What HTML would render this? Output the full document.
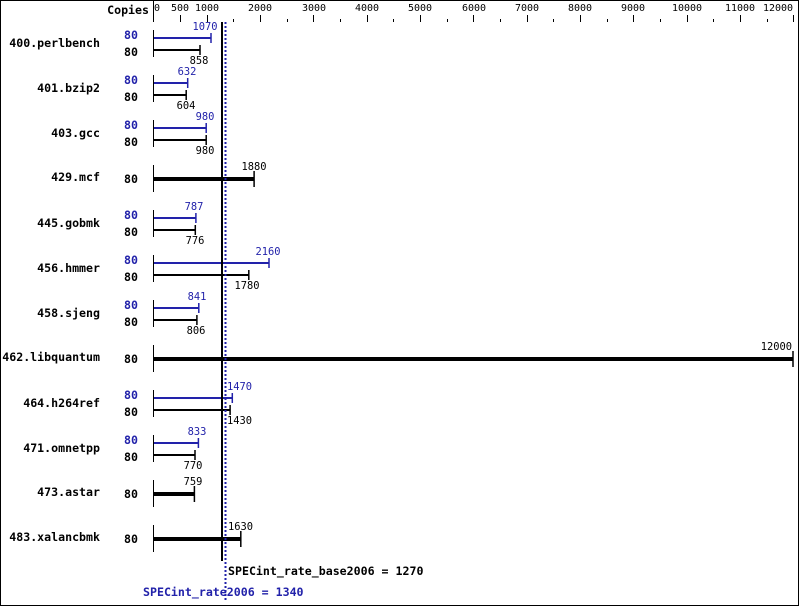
<html><body style="margin:0;background:#fff">
<svg width="799" height="606" xmlns="http://www.w3.org/2000/svg" font-family="DejaVu Sans Mono, Liberation Mono, monospace" font-size="11.6">
<rect x="0.5" y="0.5" width="798" height="605" fill="#fff" stroke="#000"/>
<text x="149" y="14" text-anchor="end" font-weight="bold">Copies</text>
<line x1="153.5" y1="0" x2="153.5" y2="22" stroke="#000"/>
<g fill="#000" font-size="10" text-anchor="middle">
<text x="157" y="11">0</text><text x="180" y="11">500</text><text x="207" y="11">1000</text>
<text x="260" y="11">2000</text><text x="314" y="11">3000</text><text x="367" y="11">4000</text><text x="420" y="11">5000</text><text x="474" y="11">6000</text><text x="527" y="11">7000</text><text x="580" y="11">8000</text><text x="633" y="11">9000</text><text x="687" y="11">10000</text><text x="740" y="11">11000</text><text x="778" y="11">12000</text>
</g>
<g stroke="#000">
<line x1="180.5" y1="15" x2="180.5" y2="22"/><line x1="207.5" y1="15" x2="207.5" y2="22"/>
<line x1="233.5" y1="19" x2="233.5" y2="22"/><line x1="260.5" y1="15" x2="260.5" y2="22"/>
<line x1="287.5" y1="19" x2="287.5" y2="22"/><line x1="313.5" y1="15" x2="313.5" y2="22"/>
<line x1="340.5" y1="19" x2="340.5" y2="22"/><line x1="367.5" y1="15" x2="367.5" y2="22"/>
<line x1="393.5" y1="19" x2="393.5" y2="22"/><line x1="420.5" y1="15" x2="420.5" y2="22"/>
<line x1="447.5" y1="19" x2="447.5" y2="22"/><line x1="473.5" y1="15" x2="473.5" y2="22"/>
<line x1="500.5" y1="19" x2="500.5" y2="22"/><line x1="527.5" y1="15" x2="527.5" y2="22"/>
<line x1="553.5" y1="19" x2="553.5" y2="22"/><line x1="580.5" y1="15" x2="580.5" y2="22"/>
<line x1="607.5" y1="19" x2="607.5" y2="22"/><line x1="633.5" y1="15" x2="633.5" y2="22"/>
<line x1="660.5" y1="19" x2="660.5" y2="22"/><line x1="687.5" y1="15" x2="687.5" y2="22"/>
<line x1="713.5" y1="19" x2="713.5" y2="22"/><line x1="740.5" y1="15" x2="740.5" y2="22"/>
<line x1="767.5" y1="19" x2="767.5" y2="22"/><line x1="793.5" y1="15" x2="793.5" y2="22"/>
</g>
<g font-weight="bold" text-anchor="end">
<text x="100" y="47">400.perlbench</text><text x="100" y="92">401.bzip2</text><text x="100" y="137">403.gcc</text>
<text x="100" y="181">429.mcf</text><text x="100" y="227">445.gobmk</text><text x="100" y="272">456.hmmer</text>
<text x="100" y="317">458.sjeng</text><text x="100" y="361">462.libquantum</text><text x="100" y="407">464.h264ref</text>
<text x="100" y="452">471.omnetpp</text><text x="100" y="496">473.astar</text><text x="100" y="541">483.xalancbmk</text>
</g>

<g font-size="10.4">
<g transform="translate(0,0)">
<line x1="153.5" y1="30" x2="153.5" y2="57" stroke="#000"/>
<text x="138" y="39" text-anchor="end" font-weight="bold" fill="#2222aa" font-size="11.6">80</text><text x="138" y="56" text-anchor="end" font-weight="bold" font-size="11.6">80</text>
<line x1="154" y1="38" x2="211" y2="38" stroke="#2222aa" stroke-width="2"/><line x1="211" y1="33" x2="211" y2="43" stroke="#2222aa" stroke-width="1.5"/>
<line x1="154" y1="50" x2="200" y2="50" stroke="#000" stroke-width="2"/><line x1="200" y1="45" x2="200" y2="55" stroke="#000" stroke-width="1.5"/>
<text x="205" y="30" text-anchor="middle" fill="#2222aa">1070</text><text x="199" y="64" text-anchor="middle">858</text>
</g>
<g transform="translate(0,45)">
<line x1="153.5" y1="30" x2="153.5" y2="57" stroke="#000"/>
<text x="138" y="39" text-anchor="end" font-weight="bold" fill="#2222aa" font-size="11.6">80</text><text x="138" y="56" text-anchor="end" font-weight="bold" font-size="11.6">80</text>
<line x1="154" y1="38" x2="187.7" y2="38" stroke="#2222aa" stroke-width="2"/><line x1="187.7" y1="33" x2="187.7" y2="43" stroke="#2222aa" stroke-width="1.5"/>
<line x1="154" y1="50" x2="186.2" y2="50" stroke="#000" stroke-width="2"/><line x1="186.2" y1="45" x2="186.2" y2="55" stroke="#000" stroke-width="1.5"/>
<text x="187" y="30" text-anchor="middle" fill="#2222aa">632</text><text x="186" y="64" text-anchor="middle">604</text>
</g>
<g transform="translate(0,90)">
<line x1="153.5" y1="30" x2="153.5" y2="57" stroke="#000"/>
<text x="138" y="39" text-anchor="end" font-weight="bold" fill="#2222aa" font-size="11.6">80</text><text x="138" y="56" text-anchor="end" font-weight="bold" font-size="11.6">80</text>
<line x1="154" y1="38" x2="206.2" y2="38" stroke="#2222aa" stroke-width="2"/><line x1="206.2" y1="33" x2="206.2" y2="43" stroke="#2222aa" stroke-width="1.5"/>
<line x1="154" y1="50" x2="206.2" y2="50" stroke="#000" stroke-width="2"/><line x1="206.2" y1="45" x2="206.2" y2="55" stroke="#000" stroke-width="1.5"/>
<text x="205" y="30" text-anchor="middle" fill="#2222aa">980</text><text x="205" y="64" text-anchor="middle">980</text>
</g>
<g transform="translate(0,180)">
<line x1="153.5" y1="30" x2="153.5" y2="57" stroke="#000"/>
<text x="138" y="39" text-anchor="end" font-weight="bold" fill="#2222aa" font-size="11.6">80</text><text x="138" y="56" text-anchor="end" font-weight="bold" font-size="11.6">80</text>
<line x1="154" y1="38" x2="195.9" y2="38" stroke="#2222aa" stroke-width="2"/><line x1="195.9" y1="33" x2="195.9" y2="43" stroke="#2222aa" stroke-width="1.5"/>
<line x1="154" y1="50" x2="195.3" y2="50" stroke="#000" stroke-width="2"/><line x1="195.3" y1="45" x2="195.3" y2="55" stroke="#000" stroke-width="1.5"/>
<text x="194" y="30" text-anchor="middle" fill="#2222aa">787</text><text x="195" y="64" text-anchor="middle">776</text>
</g>
<g transform="translate(0,225)">
<line x1="153.5" y1="30" x2="153.5" y2="57" stroke="#000"/>
<text x="138" y="39" text-anchor="end" font-weight="bold" fill="#2222aa" font-size="11.6">80</text><text x="138" y="56" text-anchor="end" font-weight="bold" font-size="11.6">80</text>
<line x1="154" y1="38" x2="269" y2="38" stroke="#2222aa" stroke-width="2"/><line x1="269" y1="33" x2="269" y2="43" stroke="#2222aa" stroke-width="1.5"/>
<line x1="154" y1="50" x2="248.8" y2="50" stroke="#000" stroke-width="2"/><line x1="248.8" y1="45" x2="248.8" y2="55" stroke="#000" stroke-width="1.5"/>
<text x="268" y="30" text-anchor="middle" fill="#2222aa">2160</text><text x="247" y="64" text-anchor="middle">1780</text>
</g>
<g transform="translate(0,270)">
<line x1="153.5" y1="30" x2="153.5" y2="57" stroke="#000"/>
<text x="138" y="39" text-anchor="end" font-weight="bold" fill="#2222aa" font-size="11.6">80</text><text x="138" y="56" text-anchor="end" font-weight="bold" font-size="11.6">80</text>
<line x1="154" y1="38" x2="198.8" y2="38" stroke="#2222aa" stroke-width="2"/><line x1="198.8" y1="33" x2="198.8" y2="43" stroke="#2222aa" stroke-width="1.5"/>
<line x1="154" y1="50" x2="196.9" y2="50" stroke="#000" stroke-width="2"/><line x1="196.9" y1="45" x2="196.9" y2="55" stroke="#000" stroke-width="1.5"/>
<text x="197" y="30" text-anchor="middle" fill="#2222aa">841</text><text x="196" y="64" text-anchor="middle">806</text>
</g>
<g transform="translate(0,360)">
<line x1="153.5" y1="30" x2="153.5" y2="57" stroke="#000"/>
<text x="138" y="39" text-anchor="end" font-weight="bold" fill="#2222aa" font-size="11.6">80</text><text x="138" y="56" text-anchor="end" font-weight="bold" font-size="11.6">80</text>
<line x1="154" y1="38" x2="232.3" y2="38" stroke="#2222aa" stroke-width="2"/><line x1="232.3" y1="33" x2="232.3" y2="43" stroke="#2222aa" stroke-width="1.5"/>
<line x1="154" y1="50" x2="230.1" y2="50" stroke="#000" stroke-width="2"/><line x1="230.1" y1="45" x2="230.1" y2="55" stroke="#000" stroke-width="1.5"/>
<text x="227" y="30" text-anchor="start" fill="#2222aa">1470</text><text x="227" y="64" text-anchor="start">1430</text>
</g>
<g transform="translate(0,405)">
<line x1="153.5" y1="30" x2="153.5" y2="57" stroke="#000"/>
<text x="138" y="39" text-anchor="end" font-weight="bold" fill="#2222aa" font-size="11.6">80</text><text x="138" y="56" text-anchor="end" font-weight="bold" font-size="11.6">80</text>
<line x1="154" y1="38" x2="198.4" y2="38" stroke="#2222aa" stroke-width="2"/><line x1="198.4" y1="33" x2="198.4" y2="43" stroke="#2222aa" stroke-width="1.5"/>
<line x1="154" y1="50" x2="195" y2="50" stroke="#000" stroke-width="2"/><line x1="195" y1="45" x2="195" y2="55" stroke="#000" stroke-width="1.5"/>
<text x="197" y="30" text-anchor="middle" fill="#2222aa">833</text><text x="193" y="64" text-anchor="middle">770</text>
</g>

<g transform="translate(0,0)">
<line x1="153.5" y1="165" x2="153.5" y2="192" stroke="#000"/>
<text x="138" y="183" text-anchor="end" font-weight="bold" font-size="11.6">80</text>
<line x1="154" y1="179" x2="254.1" y2="179" stroke="#000" stroke-width="4"/><line x1="254.1" y1="171" x2="254.1" y2="187" stroke="#000" stroke-width="1.5"/>
<text x="254" y="170" text-anchor="middle">1880</text>
</g>
<g transform="translate(0,180)">
<line x1="153.5" y1="165" x2="153.5" y2="192" stroke="#000"/>
<text x="138" y="183" text-anchor="end" font-weight="bold" font-size="11.6">80</text>
<line x1="154" y1="179" x2="793" y2="179" stroke="#000" stroke-width="4"/><line x1="793" y1="171" x2="793" y2="187" stroke="#000" stroke-width="1.5"/>
<text x="792" y="170" text-anchor="end">12000</text>
</g>
<g transform="translate(0,315)">
<line x1="153.5" y1="165" x2="153.5" y2="192" stroke="#000"/>
<text x="138" y="183" text-anchor="end" font-weight="bold" font-size="11.6">80</text>
<line x1="154" y1="179" x2="194.4" y2="179" stroke="#000" stroke-width="4"/><line x1="194.4" y1="171" x2="194.4" y2="187" stroke="#000" stroke-width="1.5"/>
<text x="193" y="170" text-anchor="middle">759</text>
</g>
<g transform="translate(0,360)">
<line x1="153.5" y1="165" x2="153.5" y2="192" stroke="#000"/>
<text x="138" y="183" text-anchor="end" font-weight="bold" font-size="11.6">80</text>
<line x1="154" y1="179" x2="240.8" y2="179" stroke="#000" stroke-width="4"/><line x1="240.8" y1="171" x2="240.8" y2="187" stroke="#000" stroke-width="1.5"/>
<text x="228" y="170" text-anchor="start">1630</text>
</g>
</g>

<line x1="222" y1="22" x2="222" y2="561" stroke="#000" stroke-width="2"/>
<line x1="225.5" y1="22" x2="225.5" y2="601" stroke="#2222aa" stroke-width="2" stroke-dasharray="2,2"/>
<text x="228" y="575" font-weight="bold">SPECint_rate_base2006 = 1270</text>
<text x="143" y="596" font-weight="bold" fill="#2222aa">SPECint_rate2006 = 1340</text>
</svg>
</body></html>
